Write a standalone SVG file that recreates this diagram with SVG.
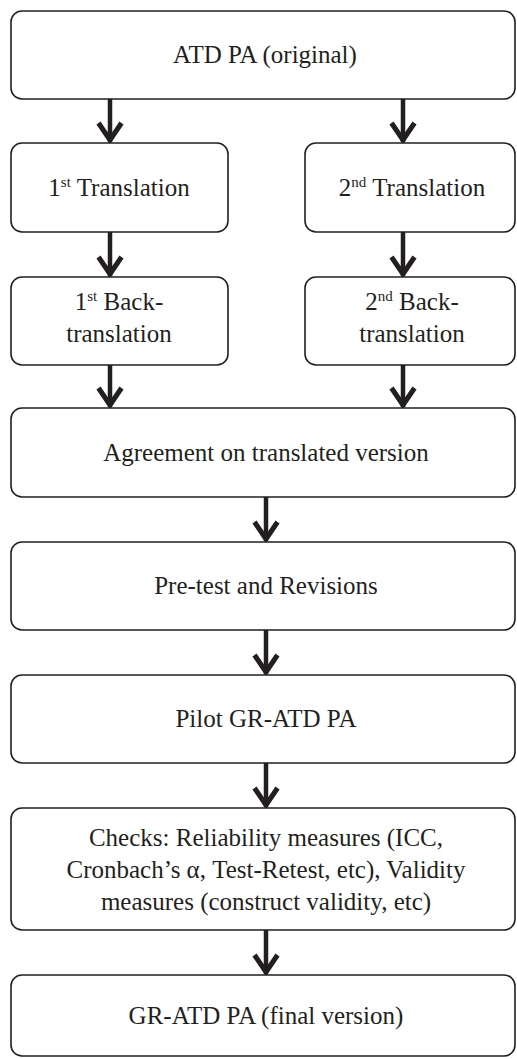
<svg xmlns="http://www.w3.org/2000/svg" width="517" height="1059" viewBox="0 0 517 1059">
<style>
.box{fill:#fff;stroke:#231f20;stroke-width:1.6}
.t{font-family:"Liberation Serif","Times New Roman",serif;font-size:25px;fill:#231f20;text-anchor:middle}
.sup{font-size:15px}
.c{stroke:#231f20;stroke-width:4.5;fill:none}
</style>
<defs>
<marker id="ah" markerUnits="userSpaceOnUse" viewBox="0 0 30 26" markerWidth="30" markerHeight="26" refX="15" refY="24" overflow="visible">
<path d="M3.5 5 L15 22 L26.5 5" fill="none" stroke="#231f20" stroke-width="5"/>
</marker>
</defs>
<rect width="517" height="1059" fill="#fff"/>
<g id="connectors">
<line class="c" x1="110" y1="99" x2="110" y2="142" marker-end="url(#ah)"/>
<line class="c" x1="403" y1="99" x2="403" y2="142" marker-end="url(#ah)"/>
<line class="c" x1="110" y1="232" x2="110" y2="276" marker-end="url(#ah)"/>
<line class="c" x1="403" y1="232" x2="403" y2="276" marker-end="url(#ah)"/>
<line class="c" x1="110" y1="365" x2="110" y2="407" marker-end="url(#ah)"/>
<line class="c" x1="403" y1="365" x2="403" y2="407" marker-end="url(#ah)"/>
<line class="c" x1="266" y1="497" x2="266" y2="541" marker-end="url(#ah)"/>
<line class="c" x1="266" y1="630" x2="266" y2="674" marker-end="url(#ah)"/>
<line class="c" x1="266" y1="763" x2="266" y2="807" marker-end="url(#ah)"/>
<line class="c" x1="266" y1="930" x2="266" y2="974" marker-end="url(#ah)"/>
</g>
<g id="n-original">
<rect class="box" x="11" y="11" width="504" height="88" rx="11"/>
<text class="t" x="265" y="63">ATD PA (original)</text>
</g>
<g id="n-trans1">
<rect class="box" x="11" y="143" width="217" height="89" rx="11"/>
<text class="t" x="119" y="196">1<tspan class="sup" dy="-9">st</tspan><tspan dy="9"> Translation</tspan></text>
</g>
<g id="n-trans2">
<rect class="box" x="305" y="143" width="210" height="89" rx="11"/>
<text class="t" x="412" y="196">2<tspan class="sup" dy="-9">nd</tspan><tspan dy="9"> Translation</tspan></text>
</g>
<g id="n-back1">
<rect class="box" x="11" y="277" width="217" height="88" rx="11"/>
<text class="t" x="119" y="310">1<tspan class="sup" dy="-9">st</tspan><tspan dy="9"> Back-</tspan></text>
<text class="t" x="119" y="342">translation</text>
</g>
<g id="n-back2">
<rect class="box" x="305" y="277" width="210" height="88" rx="11"/>
<text class="t" x="412" y="310">2<tspan class="sup" dy="-9">nd</tspan><tspan dy="9"> Back-</tspan></text>
<text class="t" x="412" y="342">translation</text>
</g>
<g id="n-agreement">
<rect class="box" x="11" y="408" width="504" height="89" rx="11"/>
<text class="t" x="266" y="461">Agreement on translated version</text>
</g>
<g id="n-pretest">
<rect class="box" x="11" y="542" width="504" height="88" rx="11"/>
<text class="t" x="266" y="594">Pre-test and Revisions</text>
</g>
<g id="n-pilot">
<rect class="box" x="11" y="675" width="504" height="88" rx="11"/>
<text class="t" x="266" y="727">Pilot GR-ATD PA</text>
</g>
<g id="n-checks">
<rect class="box" x="11" y="808" width="504" height="122" rx="11"/>
<text class="t" x="266" y="846">Checks: Reliability measures (ICC,</text>
<text class="t" x="266" y="878">Cronbach’s α, Test-Retest, etc), Validity</text>
<text class="t" x="266" y="910">measures (construct validity, etc)</text>
</g>
<g id="n-final">
<rect class="box" x="11" y="975" width="504" height="81" rx="11"/>
<text class="t" x="266" y="1024">GR-ATD PA (final version)</text>
</g>
</svg>
